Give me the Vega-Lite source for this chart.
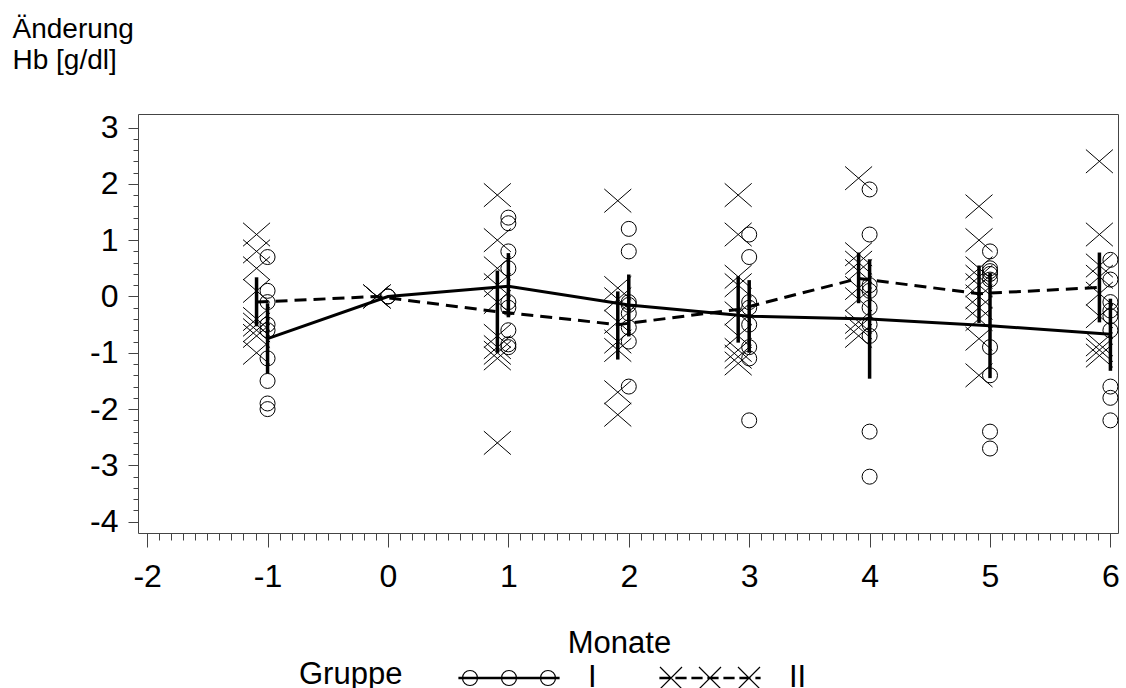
{
  "$schema": "https://vega.github.io/schema/vega-lite/v6.json",
  "width": 980,
  "height": 419,
  "autosize": {"type": "none"},
  "padding": {"left": 138, "top": 114, "right": 8, "bottom": 155},
  "background": "white",
  "config": {
    "font": "Liberation Sans",
    "view": {"stroke": "#444", "strokeWidth": 1},
    "axis": {"grid": false, "domain": false, "tickColor": "#444", "tickWidth": 1, "labelColor": "black", "titleColor": "black", "labelFont": "Liberation Sans", "titleFont": "Liberation Sans", "labelFontSize": 32, "titleFontSize": 31, "titleFontWeight": "normal"}
  },
  "datasets": {
    "pts": [
      {"t": -1, "g": "I", "v": 0.7}, {"t": -1, "g": "I", "v": 0.1}, {"t": -1, "g": "I", "v": -0.1}, {"t": -1, "g": "I", "v": -0.5}, {"t": -1, "g": "I", "v": -0.6}, {"t": -1, "g": "I", "v": -1.1}, {"t": -1, "g": "I", "v": -1.5}, {"t": -1, "g": "I", "v": -1.9}, {"t": -1, "g": "I", "v": -2.0},
      {"t": 0, "g": "I", "v": 0}, {"t": 0, "g": "I", "v": 0},
      {"t": 1, "g": "I", "v": 1.4}, {"t": 1, "g": "I", "v": 1.3}, {"t": 1, "g": "I", "v": 0.8}, {"t": 1, "g": "I", "v": 0.5}, {"t": 1, "g": "I", "v": -0.1}, {"t": 1, "g": "I", "v": -0.2}, {"t": 1, "g": "I", "v": -0.6}, {"t": 1, "g": "I", "v": -0.85}, {"t": 1, "g": "I", "v": -0.9},
      {"t": 2, "g": "I", "v": 1.2}, {"t": 2, "g": "I", "v": 0.8}, {"t": 2, "g": "I", "v": -0.1}, {"t": 2, "g": "I", "v": -0.15}, {"t": 2, "g": "I", "v": -0.3}, {"t": 2, "g": "I", "v": -0.55}, {"t": 2, "g": "I", "v": -0.8}, {"t": 2, "g": "I", "v": -1.6},
      {"t": 3, "g": "I", "v": 1.1}, {"t": 3, "g": "I", "v": 0.7}, {"t": 3, "g": "I", "v": -0.1}, {"t": 3, "g": "I", "v": -0.2}, {"t": 3, "g": "I", "v": -0.5}, {"t": 3, "g": "I", "v": -0.9}, {"t": 3, "g": "I", "v": -1.1}, {"t": 3, "g": "I", "v": -2.2},
      {"t": 4, "g": "I", "v": 1.9}, {"t": 4, "g": "I", "v": 1.1}, {"t": 4, "g": "I", "v": 0.2}, {"t": 4, "g": "I", "v": 0.1}, {"t": 4, "g": "I", "v": -0.2}, {"t": 4, "g": "I", "v": -0.5}, {"t": 4, "g": "I", "v": -0.7}, {"t": 4, "g": "I", "v": -2.4}, {"t": 4, "g": "I", "v": -3.2},
      {"t": 5, "g": "I", "v": 0.8}, {"t": 5, "g": "I", "v": 0.5}, {"t": 5, "g": "I", "v": 0.45}, {"t": 5, "g": "I", "v": 0.4}, {"t": 5, "g": "I", "v": 0.3}, {"t": 5, "g": "I", "v": -0.9}, {"t": 5, "g": "I", "v": -1.4}, {"t": 5, "g": "I", "v": -2.4}, {"t": 5, "g": "I", "v": -2.7},
      {"t": 6, "g": "I", "v": 0.65}, {"t": 6, "g": "I", "v": 0.3}, {"t": 6, "g": "I", "v": -0.1}, {"t": 6, "g": "I", "v": -0.25}, {"t": 6, "g": "I", "v": -0.35}, {"t": 6, "g": "I", "v": -0.6}, {"t": 6, "g": "I", "v": -1.6}, {"t": 6, "g": "I", "v": -1.8}, {"t": 6, "g": "I", "v": -2.2},
      {"t": -1, "g": "II", "v": 1.1}, {"t": -1, "g": "II", "v": 0.8}, {"t": -1, "g": "II", "v": 0.5}, {"t": -1, "g": "II", "v": 0.1}, {"t": -1, "g": "II", "v": -0.4}, {"t": -1, "g": "II", "v": -0.5}, {"t": -1, "g": "II", "v": -0.6}, {"t": -1, "g": "II", "v": -0.7}, {"t": -1, "g": "II", "v": -1.0},
      {"t": 0, "g": "II", "v": 0}, {"t": 0, "g": "II", "v": 0}, {"t": 0, "g": "II", "v": 0},
      {"t": 1, "g": "II", "v": 1.8}, {"t": 1, "g": "II", "v": 1.0}, {"t": 1, "g": "II", "v": 0.5}, {"t": 1, "g": "II", "v": 0.2}, {"t": 1, "g": "II", "v": -0.1}, {"t": 1, "g": "II", "v": -0.7}, {"t": 1, "g": "II", "v": -0.9}, {"t": 1, "g": "II", "v": -1.0}, {"t": 1, "g": "II", "v": -1.1}, {"t": 1, "g": "II", "v": -2.6},
      {"t": 2, "g": "II", "v": 1.7}, {"t": 2, "g": "II", "v": 0.15}, {"t": 2, "g": "II", "v": -0.05}, {"t": 2, "g": "II", "v": -0.45}, {"t": 2, "g": "II", "v": -0.8}, {"t": 2, "g": "II", "v": -0.95}, {"t": 2, "g": "II", "v": -1.7}, {"t": 2, "g": "II", "v": -2.1},
      {"t": 3, "g": "II", "v": 1.8}, {"t": 3, "g": "II", "v": 1.1}, {"t": 3, "g": "II", "v": 0.35}, {"t": 3, "g": "II", "v": 0.2}, {"t": 3, "g": "II", "v": -0.3}, {"t": 3, "g": "II", "v": -0.7}, {"t": 3, "g": "II", "v": -0.95}, {"t": 3, "g": "II", "v": -1.07}, {"t": 3, "g": "II", "v": -1.19},
      {"t": 4, "g": "II", "v": 2.1}, {"t": 4, "g": "II", "v": 0.75}, {"t": 4, "g": "II", "v": 0.6}, {"t": 4, "g": "II", "v": 0.45}, {"t": 4, "g": "II", "v": 0.15}, {"t": 4, "g": "II", "v": -0.05}, {"t": 4, "g": "II", "v": -0.45}, {"t": 4, "g": "II", "v": -0.55}, {"t": 4, "g": "II", "v": -0.7},
      {"t": 5, "g": "II", "v": 1.6}, {"t": 5, "g": "II", "v": 1.0}, {"t": 5, "g": "II", "v": 0.5}, {"t": 5, "g": "II", "v": 0.35}, {"t": 5, "g": "II", "v": 0.2}, {"t": 5, "g": "II", "v": 0.0}, {"t": 5, "g": "II", "v": -0.2}, {"t": 5, "g": "II", "v": -0.4}, {"t": 5, "g": "II", "v": -0.75}, {"t": 5, "g": "II", "v": -1.4},
      {"t": 6, "g": "II", "v": 2.4}, {"t": 6, "g": "II", "v": 1.1}, {"t": 6, "g": "II", "v": 0.55}, {"t": 6, "g": "II", "v": 0.35}, {"t": 6, "g": "II", "v": 0.05}, {"t": 6, "g": "II", "v": -0.35}, {"t": 6, "g": "II", "v": -0.85}, {"t": 6, "g": "II", "v": -0.95}, {"t": 6, "g": "II", "v": -1.05}
    ],
    "stats": [
      {"t": -1, "g": "I", "m": -0.75, "lo": -1.37, "hi": -0.12},
      {"t": 0, "g": "I", "m": 0, "lo": null, "hi": null},
      {"t": 1, "g": "I", "m": 0.18, "lo": -0.37, "hi": 0.77},
      {"t": 2, "g": "I", "m": -0.15, "lo": -0.71, "hi": 0.39},
      {"t": 3, "g": "I", "m": -0.35, "lo": -1.0, "hi": 0.29},
      {"t": 4, "g": "I", "m": -0.4, "lo": -1.46, "hi": 0.66},
      {"t": 5, "g": "I", "m": -0.52, "lo": -1.45, "hi": 0.42},
      {"t": 6, "g": "I", "m": -0.67, "lo": -1.32, "hi": -0.04},
      {"t": -1, "g": "II", "m": -0.1, "lo": -0.53, "hi": 0.34},
      {"t": 0, "g": "II", "m": 0, "lo": null, "hi": null},
      {"t": 1, "g": "II", "m": -0.27, "lo": -1.0, "hi": 0.46},
      {"t": 2, "g": "II", "m": -0.5, "lo": -1.12, "hi": 0.09},
      {"t": 3, "g": "II", "m": -0.23, "lo": -0.82, "hi": 0.36},
      {"t": 4, "g": "II", "m": 0.32, "lo": -0.12, "hi": 0.78},
      {"t": 5, "g": "II", "m": 0.05, "lo": -0.47, "hi": 0.55},
      {"t": 6, "g": "II", "m": 0.16, "lo": -0.46, "hi": 0.78}
    ]
  },
  "resolve": {"axis": {"x": "independent", "y": "independent"}},
  "layer": [
    {
      "data": {"name": "stats"},
      "transform": [{"filter": "datum.g == 'I' && datum.lo != null"}],
      "mark": {"type": "rule", "color": "black", "strokeWidth": 3.5},
      "encoding": {
        "x": {"field": "t", "type": "quantitative", "scale": {"domain": [-2.076, 6.063], "nice": false, "zero": false},
          "axis": {"orient": "bottom", "values": [-2, -1, 0, 1, 2, 3, 4, 5, 6], "tickSize": 14, "labelPadding": 14, "labelExpr": "toString(datum.value)", "title": "Monate", "titleX": 481, "titleY": 119, "titleAlign": "center", "titleBaseline": "alphabetic"}},
        "y": {"field": "lo", "type": "quantitative", "scale": {"domain": [-4.2, 3.24], "nice": false, "zero": false},
          "axis": {"orient": "left", "values": [-4, -3, -2, -1, 0, 1, 2, 3], "tickSize": 10, "labelPadding": 10, "labelExpr": "toString(datum.value)", "title": ["Änderung", "Hb [g/dl]"], "titleFontSize": 28, "titleAngle": 0, "titleX": -126, "titleY": -77, "titleAlign": "left", "titleBaseline": "alphabetic", "titleLineHeight": 31}},
        "y2": {"field": "hi"}
      }
    },
    {
      "data": {"name": "stats"},
      "transform": [{"filter": "datum.g == 'II' && datum.lo != null"}],
      "mark": {"type": "rule", "color": "black", "strokeWidth": 3.5, "xOffset": -11},
      "encoding": {
        "x": {"field": "t", "type": "quantitative", "scale": {"domain": [-2.076, 6.063], "nice": false, "zero": false}, "axis": null},
        "y": {"field": "lo", "type": "quantitative", "scale": {"domain": [-4.2, 3.24], "nice": false, "zero": false}, "axis": null},
        "y2": {"field": "hi"}
      }
    },
    {
      "data": {"name": "stats"},
      "transform": [{"filter": "datum.g == 'I'"}],
      "mark": {"type": "line", "color": "black", "strokeWidth": 3},
      "encoding": {
        "x": {"field": "t", "type": "quantitative", "scale": {"domain": [-2.076, 6.063], "nice": false, "zero": false}, "axis": null},
        "y": {"field": "m", "type": "quantitative", "scale": {"domain": [-4.2, 3.24], "nice": false, "zero": false}, "axis": null}
      }
    },
    {
      "data": {"name": "stats"},
      "transform": [{"filter": "datum.g == 'II'"}],
      "mark": {"type": "line", "color": "black", "strokeWidth": 3, "strokeDash": [12, 7], "xOffset": -11},
      "encoding": {
        "x": {"field": "t", "type": "quantitative", "scale": {"domain": [-2.076, 6.063], "nice": false, "zero": false}, "axis": null},
        "y": {"field": "m", "type": "quantitative", "scale": {"domain": [-4.2, 3.24], "nice": false, "zero": false}, "axis": null}
      }
    },
    {
      "data": {"name": "pts"},
      "transform": [{"filter": "datum.g == 'I'"}],
      "mark": {"type": "point", "shape": "circle", "filled": false, "color": "black", "strokeWidth": 1, "size": 225, "opacity": 1},
      "encoding": {
        "x": {"field": "t", "type": "quantitative", "scale": {"domain": [-2.076, 6.063], "nice": false, "zero": false}, "axis": null},
        "y": {"field": "v", "type": "quantitative", "scale": {"domain": [-4.2, 3.24], "nice": false, "zero": false}, "axis": null}
      }
    },
    {
      "data": {"name": "pts"},
      "transform": [{"filter": "datum.g == 'II'"}],
      "mark": {"type": "point", "shape": "M-1,-0.87L1,0.87M-1,0.87L1,-0.87", "filled": false, "color": "black", "strokeWidth": 1, "size": 729, "opacity": 1, "xOffset": -11},
      "encoding": {
        "x": {"field": "t", "type": "quantitative", "scale": {"domain": [-2.076, 6.063], "nice": false, "zero": false}, "axis": null},
        "y": {"field": "v", "type": "quantitative", "scale": {"domain": [-4.2, 3.24], "nice": false, "zero": false}, "axis": null}
      }
    },
    {
      "data": {"name": "stats"},
      "mark": {"type": "point", "opacity": 0},
      "encoding": {
        "x": {"field": "t", "type": "quantitative", "scale": {"domain": [-2.076, 6.063], "nice": false, "zero": false},
          "axis": {"orient": "bottom", "values": [-2, -1.9, -1.8, -1.7, -1.6, -1.5, -1.4, -1.3, -1.2, -1.1, -1, -0.9, -0.8, -0.7, -0.6, -0.5, -0.4, -0.3, -0.2, -0.1, 0, 0.1, 0.2, 0.3, 0.4, 0.5, 0.6, 0.7, 0.8, 0.9, 1, 1.1, 1.2, 1.3, 1.4, 1.5, 1.6, 1.7, 1.8, 1.9, 2, 2.1, 2.2, 2.3, 2.4, 2.5, 2.6, 2.7, 2.8, 2.9, 3, 3.1, 3.2, 3.3, 3.4, 3.5, 3.6, 3.7, 3.8, 3.9, 4, 4.1, 4.2, 4.3, 4.4, 4.5, 4.6, 4.7, 4.8, 4.9, 5, 5.1, 5.2, 5.3, 5.4, 5.5, 5.6, 5.7, 5.8, 5.9, 6], "tickSize": 7, "labels": false, "title": null}},
        "y": {"field": "m", "type": "quantitative", "scale": {"domain": [-4.2, 3.24], "nice": false, "zero": false},
          "axis": {"orient": "left", "values": [-4, -3.8, -3.6, -3.4, -3.2, -3, -2.8, -2.6, -2.4, -2.2, -2, -1.8, -1.6, -1.4, -1.2, -1, -0.8, -0.6, -0.4, -0.2, 0, 0.2, 0.4, 0.6, 0.8, 1, 1.2, 1.4, 1.6, 1.8, 2, 2.2, 2.4, 2.6, 2.8, 3], "tickSize": 5, "labels": false, "title": null}}
      }
    },
    {
      "data": {"name": "stats"},
      "mark": {"type": "point", "opacity": 0, "filled": false, "color": "black", "strokeWidth": 1},
      "encoding": {
        "x": {"field": "t", "type": "quantitative", "scale": {"domain": [-2.076, 6.063], "nice": false, "zero": false}, "axis": null},
        "y": {"field": "m", "type": "quantitative", "scale": {"domain": [-4.2, 3.24], "nice": false, "zero": false}, "axis": null},
        "shape": {"field": "g", "type": "nominal",
          "scale": {"domain": ["I", "II"], "range": [
            "M-1,-0.012L1,-0.012L1,0.012L-1,0.012Z M-0.63,0A0.15,0.15 0 1 1 -0.93,0A0.15,0.15 0 1 1 -0.63,0Z M0.15,0A0.15,0.15 0 1 1 -0.15,0A0.15,0.15 0 1 1 0.15,0Z M0.93,0A0.15,0.15 0 1 1 0.63,0A0.15,0.15 0 1 1 0.93,0Z",
            "M-1,-0.012L-0.8,-0.012L-0.8,0.012L-1,0.012Z M-0.68,-0.012L-0.48,-0.012L-0.48,0.012L-0.68,0.012Z M-0.36,-0.012L-0.16,-0.012L-0.16,0.012L-0.36,0.012Z M-0.04,-0.012L0.16,-0.012L0.16,0.012L-0.04,0.012Z M0.28,-0.012L0.48,-0.012L0.48,0.012L0.28,0.012Z M0.6,-0.012L0.8,-0.012L0.8,0.012L0.6,0.012Z M0.92,-0.012L1,-0.012L1,0.012L0.92,0.012Z M-1,-0.22L-0.56,0.22M-1,0.22L-0.56,-0.22 M-0.22,-0.22L0.22,0.22M-0.22,0.22L0.22,-0.22 M0.56,-0.22L1,0.22M0.56,0.22L1,-0.22"
          ]},
          "legend": {"orient": "none", "legendX": 161, "legendY": 513, "direction": "horizontal", "title": "Gruppe", "titleOrient": "left", "titleAnchor": "middle", "titleBaseline": "top", "titleFont": "Liberation Sans", "titleFontSize": 31, "titleFontWeight": "normal", "titleColor": "black", "titlePadding": 55, "labelFont": "Liberation Sans", "labelFontSize": 31, "labelColor": "black", "labelOffset": 28, "columnPadding": 60, "symbolSize": 10000, "symbolStrokeColor": "black", "symbolStrokeWidth": 1.2, "symbolFillColor": "transparent", "symbolOpacity": 1}
        }
      }
    }
  ]
}
